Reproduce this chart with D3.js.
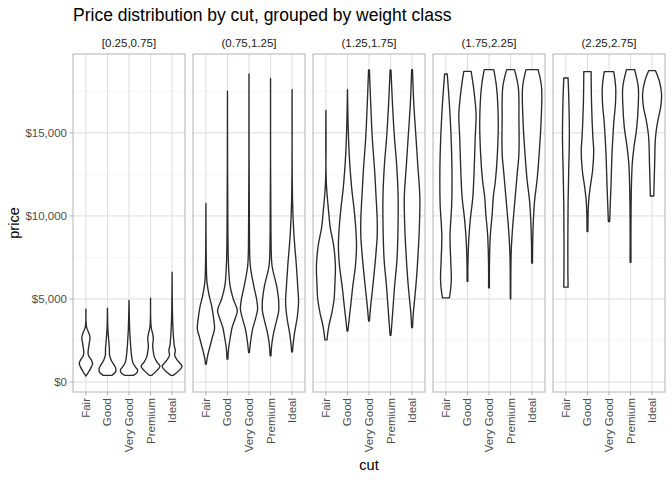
<!DOCTYPE html>
<html>
<head>
<meta charset="utf-8">
<script src="https://cdn.jsdelivr.net/npm/d3@7"></script>
<style>
  body { margin: 0; background: #fff; }
  text { font-family: "Liberation Sans", Arial, sans-serif; }
</style>
</head>
<body>
<svg id="chart" width="672" height="480"></svg>
<script>
// categories and facets
var cuts = ["Fair", "Good", "Very Good", "Premium", "Ideal"];
var weightClasses = ["[0.25,0.75]", "(0.75,1.25]", "(1.25,1.75]", "(1.75,2.25]", "(2.25,2.75]"];
var priceTicks = [0, 5000, 10000, 15000];
var priceMinor = [2500, 7500, 12500, 17500];

// violin outlines: [price, half width in category units], bottom to top
var class1 = [
  [[361,0],[600,0.12],[900,0.25],[1120,0.31],[1350,0.24],[1600,0.12],[1800,0.1],[2300,0.15],[2700,0.19],[3000,0.12],[3300,0.03],[4393,0]],
  [[400,0.2],[600,0.37],[800,0.39],[1000,0.32],[1300,0.18],[1600,0.1],[2000,0.09],[2500,0.06],[3200,0.02],[4453,0]],
  [[400,0.2],[550,0.36],[720,0.4],[900,0.3],[1200,0.17],[1800,0.1],[2500,0.06],[3200,0.03],[4912,0]],
  [[400,0.05],[700,0.3],[950,0.44],[1200,0.3],[1500,0.18],[1900,0.12],[2200,0.1],[2600,0.13],[2900,0.1],[3300,0.03],[5052,0]],
  [[400,0.05],[700,0.33],[950,0.46],[1300,0.25],[1600,0.12],[1900,0.15],[2200,0.1],[3000,0.05],[4000,0.02],[6609,0]]
];
var class2 = [
  [[1080,0.02],[1400,0.05],[1800,0.12],[2200,0.2],[2700,0.3],[3200,0.4],[3800,0.36],[4500,0.28],[5200,0.15],[6000,0.05],[7000,0.02],[10760,0]],
  [[1379,0.02],[2000,0.05],[2600,0.12],[3300,0.22],[3800,0.35],[4300,0.46],[5000,0.27],[5800,0.12],[7000,0.05],[9000,0.02],[17507,0]],
  [[1778,0.02],[2500,0.08],[3200,0.17],[3800,0.3],[4400,0.4],[5000,0.35],[5800,0.22],[7000,0.06],[9000,0.02],[18544,0]],
  [[1578,0.02],[2300,0.06],[3000,0.15],[3700,0.28],[4300,0.38],[5000,0.37],[5800,0.28],[7000,0.07],[9000,0.02],[18285,0]],
  [[1818,0.02],[2300,0.05],[3000,0.12],[3900,0.24],[4800,0.3],[5800,0.26],[7000,0.2],[9000,0.08],[11000,0.02],[17606,0]]
];
var class3 = [
  [[2537,0.05],[2800,0.07],[3400,0.14],[4200,0.28],[5000,0.38],[6000,0.42],[7000,0.44],[8200,0.36],[9300,0.2],[10200,0.13],[12000,0.02],[16349,0]],
  [[3075,0.02],[3800,0.08],[4600,0.15],[5800,0.25],[7000,0.37],[8200,0.42],[9350,0.38],[10500,0.3],[11750,0.19],[13750,0.08],[15500,0.03],[17606,0]],
  [[3674,0.02],[4600,0.08],[5800,0.18],[7400,0.3],[8800,0.38],[9800,0.38],[11350,0.32],[12750,0.26],[14750,0.15],[16750,0.08],[18784,0.02]],
  [[2815,0.02],[4200,0.1],[5800,0.19],[7400,0.3],[9500,0.35],[11300,0.35],[13150,0.28],[14750,0.18],[16750,0.09],[18784,0.02]],
  [[3275,0.02],[4200,0.06],[5000,0.12],[6150,0.2],[7750,0.28],[9350,0.34],[11150,0.36],[13150,0.26],[14750,0.18],[16750,0.08],[18804,0.02]]
];
var class4 = [
  [[5071,0.16],[5600,0.22],[6200,0.25],[7400,0.22],[8800,0.19],[10750,0.27],[12750,0.28],[14750,0.24],[16750,0.16],[18544,0.06]],
  [[6070,0.02],[7000,0.02],[8550,0.06],[9750,0.13],[11150,0.25],[12750,0.31],[14750,0.36],[16150,0.4],[17750,0.28],[18704,0.17]],
  [[5670,0.02],[7000,0.02],[8800,0.06],[10150,0.15],[11150,0.2],[12150,0.3],[13750,0.39],[15750,0.43],[17750,0.35],[18804,0.22]],
  [[5012,0.01],[7800,0.03],[9000,0.08],[10150,0.15],[11350,0.23],[12550,0.31],[13750,0.39],[15750,0.39],[17750,0.36],[18804,0.18]],
  [[7167,0.02],[8500,0.03],[9750,0.06],[10950,0.12],[12150,0.23],[13750,0.33],[15750,0.42],[17750,0.44],[18804,0.28]]
];
var class5 = [
  [[5710,0.1],[6750,0.09],[8750,0.09],[10750,0.1],[12750,0.13],[14750,0.16],[16750,0.14],[18305,0.1]],
  [[9063,0.02],[10150,0.03],[10950,0.06],[11750,0.13],[12750,0.24],[13950,0.29],[14750,0.25],[16750,0.19],[18684,0.17]],
  [[9662,0.03],[10750,0.06],[11750,0.09],[13750,0.14],[14750,0.18],[15750,0.23],[16750,0.3],[17750,0.31],[18684,0.22]],
  [[7207,0.02],[9500,0.02],[11750,0.04],[13150,0.08],[14150,0.16],[15350,0.29],[16750,0.36],[17750,0.36],[18804,0.19]],
  [[11199,0.08],[11750,0.09],[13150,0.12],[14750,0.16],[15750,0.27],[16550,0.4],[17350,0.44],[18150,0.33],[18744,0.16]]
];
var violins = [class1, class2, class3, class4, class5];

// layout
var panelTop = 54, panelBottom = 392;
var panelLeft0 = 73, panelWidth = 112, panelGap = 8;

var svg = d3.select("#chart");

var y = d3.scaleLinear()
    .domain([-599, 19748])
    .range([panelBottom, panelTop]);

// discrete axis with ggplot's 0.6 expansion
var x = d3.scaleLinear()
    .domain([-0.6, cuts.length - 1 + 0.6])
    .range([0, panelWidth]);

var money = d3.format("$,");

svg.append("text")
    .attr("x", panelLeft0)
    .attr("y", 21)
    .attr("font-size", 17.5)
    .attr("fill", "#000")
    .text("Price distribution by cut, grouped by weight class");

weightClasses.forEach(function(label, p) {
    var left = panelLeft0 + p * (panelWidth + panelGap);
    var g = svg.append("g").attr("transform", "translate(" + left + ",0)");

    // strip label
    g.append("text")
        .attr("x", panelWidth / 2)
        .attr("y", 47)
        .attr("text-anchor", "middle")
        .attr("font-size", 11.5)
        .attr("fill", "#1a1a1a")
        .text(label);

    // minor grid
    g.selectAll(".minor")
        .data(priceMinor)
        .enter().append("line")
        .attr("x1", 0).attr("x2", panelWidth)
        .attr("y1", function(d) { return y(d); })
        .attr("y2", function(d) { return y(d); })
        .attr("stroke", "#efefef")
        .attr("stroke-width", 0.6);

    // major grid
    g.selectAll(".hmajor")
        .data(priceTicks)
        .enter().append("line")
        .attr("x1", 0).attr("x2", panelWidth)
        .attr("y1", function(d) { return y(d); })
        .attr("y2", function(d) { return y(d); })
        .attr("stroke", "#dedede")
        .attr("stroke-width", 1);

    g.selectAll(".vmajor")
        .data(cuts)
        .enter().append("line")
        .attr("x1", function(d, i) { return x(i); })
        .attr("x2", function(d, i) { return x(i); })
        .attr("y1", panelTop).attr("y2", panelBottom)
        .attr("stroke", "#dedede")
        .attr("stroke-width", 1);

    // violins
    violins[p].forEach(function(profile, i) {
        var area = d3.area()
            .y(function(d) { return y(d[0]); })
            .x0(function(d) { return x(i - d[1]); })
            .x1(function(d) { return x(i + d[1]); })
            .curve(d3.curveCatmullRom);

        g.append("path")
            .datum(profile)
            .attr("d", area)
            .attr("fill", "#fff")
            .attr("stroke", "#2b2b2b")
            .attr("stroke-width", 1.35)
            .attr("stroke-linejoin", "round");
    });

    // panel border
    g.append("rect")
        .attr("x", 0).attr("y", panelTop)
        .attr("width", panelWidth).attr("height", panelBottom - panelTop)
        .attr("fill", "none")
        .attr("stroke", "#b3b3b3")
        .attr("stroke-width", 1);

    // x ticks and labels
    g.selectAll(".xtick")
        .data(cuts)
        .enter().append("line")
        .attr("x1", function(d, i) { return x(i); })
        .attr("x2", function(d, i) { return x(i); })
        .attr("y1", panelBottom).attr("y2", panelBottom + 3.5)
        .attr("stroke", "#b3b3b3");

    g.selectAll(".xlabel")
        .data(cuts)
        .enter().append("text")
        .attr("transform", function(d, i) {
            return "translate(" + (x(i) + 4) + "," + (panelBottom + 6) + ") rotate(-90)";
        })
        .attr("text-anchor", "end")
        .attr("font-size", 11.5)
        .attr("fill", "#4d4d4d")
        .text(function(d) { return d; });

    // y axis only on the first panel
    if (p === 0) {
        g.selectAll(".ytick")
            .data(priceTicks)
            .enter().append("line")
            .attr("x1", -3.5).attr("x2", 0)
            .attr("y1", function(d) { return y(d); })
            .attr("y2", function(d) { return y(d); })
            .attr("stroke", "#b3b3b3");

        g.selectAll(".ylabel")
            .data(priceTicks)
            .enter().append("text")
            .attr("x", -6)
            .attr("y", function(d) { return y(d) + 4; })
            .attr("text-anchor", "end")
            .attr("font-size", 11.5)
            .attr("fill", "#4d4d4d")
            .text(function(d) { return money(d); });
    }
});

// axis titles
svg.append("text")
    .attr("transform", "translate(19," + ((panelTop + panelBottom) / 2) + ") rotate(-90)")
    .attr("text-anchor", "middle")
    .attr("font-size", 14.5)
    .attr("fill", "#000")
    .text("price");

var lastRight = panelLeft0 + 5 * panelWidth + 4 * panelGap;
svg.append("text")
    .attr("x", (panelLeft0 + lastRight) / 2)
    .attr("y", 470)
    .attr("text-anchor", "middle")
    .attr("font-size", 14.5)
    .attr("fill", "#000")
    .text("cut");
</script>
</body>
</html>
